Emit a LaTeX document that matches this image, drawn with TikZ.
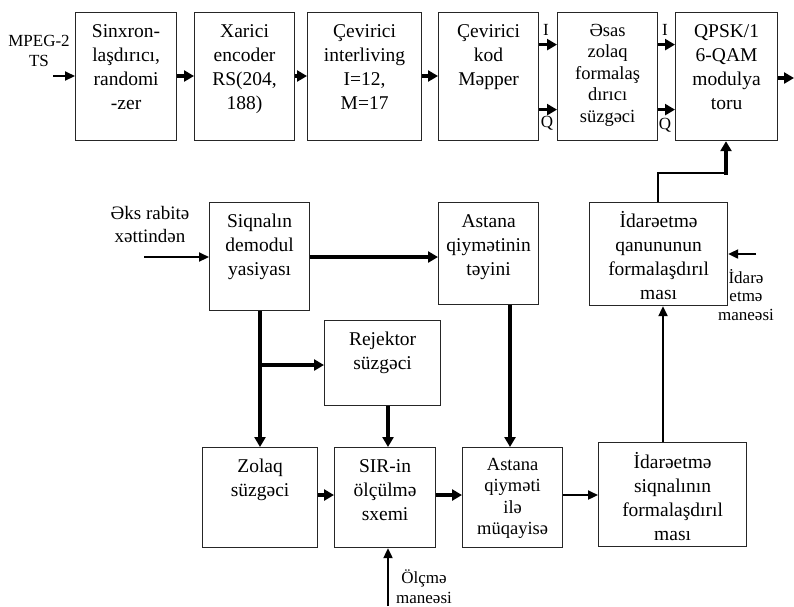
\documentclass[tikz,border=0pt]{standalone}
\usepackage{fontspec}
\setmainfont{Liberation Serif}
\usetikzlibrary{arrows.meta}

\tikzset{
  blk/.style={draw=black!85,line width=1.2pt,inner sep=0pt,anchor=north west},
  txt/.style={align=center,inner sep=0pt,anchor=north,font=\fontsize{19.5}{24}\selectfont},
  sml/.style={font=\fontsize{18.5}{21.5}\selectfont},
  lbl/.style={align=center,inner sep=0pt,font=\fontsize{17}{20}\selectfont},
  arr/.style={line width=2.2pt,-{Triangle[length=10pt,width=9pt]}},
  barr/.style={line width=3.6pt,-{Triangle[length=10pt,width=11pt]}}
}

% box + its text, hung from the top edge
\newcommand{\blk}[7][yshift=-12pt]{%
  \node[blk,minimum width=#5,minimum height=#6] (#2) at (#3,#4) {};
  \node[txt,#1] (#2-t) at (#2.north) {#7};}

\begin{document}
\begin{tikzpicture}[x=1pt,y=-1pt]
\useasboundingbox (0,0) rectangle (794,606);

% top row
\blk{sinx}{75}{12}{101pt}{128pt}{Sinxron-\\laşdırıcı,\\randomi\\-zer}
\blk{xar}{194}{12}{100pt}{128pt}{Xarici\\encoder\\RS(204,\\188)}
\blk{intl}{307}{12}{114pt}{128pt}{Çevirici\\interliving\\I=12,\\M=17}
\blk{kod}{438}{12}{100pt}{128pt}{Çevirici\\kod\\Məpper}
\blk[yshift=-12pt,sml]{filt}{557}{12}{100pt}{128pt}{Əsas\\zolaq\\formalaş\\dırıcı\\süzgəci}
\blk{qpsk}{675}{12}{102pt}{128pt}{QPSK/1\\6-QAM\\modulya\\toru}

% middle row
\blk{demod}{209}{202}{100pt}{108pt}{Siqnalın\\demodul\\yasiyası}
\blk{ast}{438}{202}{100pt}{102pt}{Astana\\qiymətinin\\təyini}
\blk[yshift=-9pt]{qanun}{589}{202}{138pt}{103pt}{İdarəetmə\\qanununun\\formalaşdırıl\\ması}
\blk{rej}{324}{320}{116pt}{85pt}{Rejektor\\süzgəci}

% bottom row
\blk{zol}{202}{447}{115pt}{100pt}{Zolaq\\süzgəci}
\blk{sir}{334}{447}{101pt}{100pt}{SIR-in\\ölçülmə\\sxemi}
\blk[yshift=-11pt,sml]{muq}{462}{447}{100pt}{100pt}{Astana\\qiyməti\\ilə\\müqayisə}
\blk[yshift=-10pt]{isig}{598}{442}{148pt}{104pt}{İdarəetmə\\siqnalının\\formalaşdırıl\\ması}

% outside texts
\node[lbl] (mpeg) at (39,51) {MPEG-2\\TS};
\node[lbl,font=\fontsize{19}{23}\selectfont] (eks) at (150,224) {Əks rabitə\\xəttindən};
\node[lbl,font=\fontsize{17}{18.5}\selectfont] (idm) at (746,295) {İdarə\\etmə\\maneəsi};
\node[lbl] (olc) at (424,587) {Ölçmə\\maneəsi};
\node[lbl] (i1) at (546,30) {I};
\node[lbl] (q1) at (547,123) {Q};
\node[lbl] (i2) at (665,30) {I};
\node[lbl] (q2) at (665,125) {Q};

\coordinate (tsin) at (53,76);
\coordinate (out) at (794,78);
\coordinate (eksin) at (144,257);
\coordinate (idmin) at (756,254);
\coordinate (olcin) at (388,606);
\coordinate (bend) at (658,173);
\coordinate (split) at (260,365);

% top chain
\draw[arr] (tsin) -- (sinx.west |- tsin);
\draw[barr] (sinx.east |- tsin) -- (xar.west |- tsin);
\draw[barr] (xar.east |- tsin) -- (intl.west |- tsin);
\draw[barr] (intl.east |- tsin) -- (kod.west |- tsin);
\draw[barr] ([yshift=-33pt]kod.east) -- ([yshift=-33pt]filt.west);
\draw[barr] ([yshift=32pt]kod.east) -- ([yshift=32pt]filt.west);
\draw[barr] ([yshift=-33pt]filt.east) -- ([yshift=-33pt]qpsk.west);
\draw[barr] ([yshift=32pt]filt.east) -- ([yshift=32pt]qpsk.west);
\draw[barr] (qpsk.east |- out) -- (out);

% feedback path
\draw[arr] (eksin) -- (demod.west |- eksin);
\draw[barr] (demod.east |- eksin) -- (ast.west |- eksin);
\draw[arr] (idmin) -- (qanun.east |- idmin);
\draw[line width=1.2pt] (qanun.north -| bend) -- (bend) -- (bend -| 726,0);
\draw[barr] (726,174.5) -- (qpsk.south -| 726,0);
\draw[barr] (demod.south -| split) -- (zol.north -| split);
\draw[barr] (split) -- (rej.west |- split);
\draw[barr] (rej.south -| 388,0) -- (sir.north -| 388,0);
\draw[barr] (ast.south -| 510,0) -- (muq.north -| 510,0);
\draw[barr] (zol.east |- 0,495) -- (sir.west |- 0,495);
\draw[barr] (sir.east |- 0,495) -- (muq.west |- 0,495);
\draw[arr] (muq.east |- 0,495) -- (isig.west |- 0,495);
\draw[arr] (isig.north -| 663,0) -- (qanun.south -| 663,0);
\draw[arr] (olcin) -- (sir.south -| olcin);
\end{tikzpicture}
\end{document}
